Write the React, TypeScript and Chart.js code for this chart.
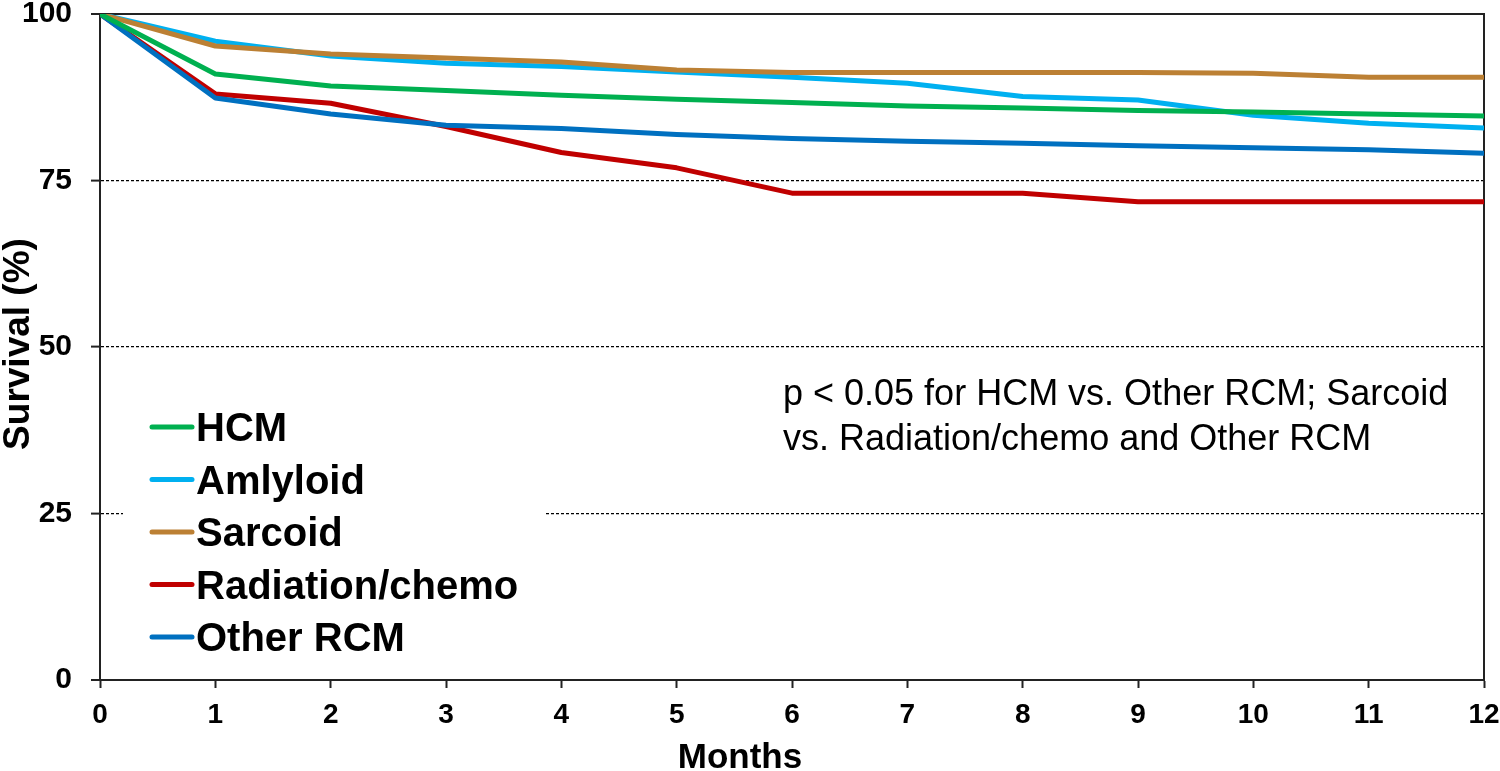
import React, { useEffect, useRef } from "react";
import { Chart, registerables } from "chart.js";

Chart.register(...registerables);

const months = [0, 1, 2, 3, 4, 5, 6, 7, 8, 9, 10, 11, 12];
const hcm = [100, 91.0, 89.2, 88.5, 87.8, 87.2, 86.7, 86.2, 85.9, 85.5, 85.3, 85.0, 84.7];
const amyloid = [100, 95.9, 93.7, 92.6, 92.1, 91.3, 90.5, 89.6, 87.6, 87.1, 84.8, 83.6, 82.9];
const sarcoid = [100, 95.2, 94.0, 93.4, 92.8, 91.6, 91.2, 91.2, 91.2, 91.2, 91.1, 90.5, 90.5];
const radiation = [100, 88.0, 86.6, 83.1, 79.2, 76.9, 73.1, 73.1, 73.1, 71.8, 71.8, 71.8, 71.8];
const otherRcm = [100, 87.4, 85.0, 83.3, 82.8, 81.9, 81.3, 80.9, 80.6, 80.2, 79.9, 79.6, 79.1];

const seriesNames = ["HCM", "Amlyloid", "Sarcoid", "Radiation/chemo", "Other RCM"];
const seriesColors = ["#00B050", "#00B0F0", "#BC8034", "#C00000", "#0070C0"];
const seriesData = [hcm, amyloid, sarcoid, radiation, otherRcm];
const seriesOrder = [1, 3, 2, 5, 4];
const yTicks = [0, 25, 50, 75, 100];

const noteLines = [
  "p < 0.05 for HCM vs. Other RCM; Sarcoid",
  "vs. Radiation/chemo and Other RCM",
];
const xTitle = "Months";
const yTitle = "Survival (%)";

const FONT = "'Liberation Sans', Arial, sans-serif";

const decorPlugin = {
  id: "decor",
  beforeDatasetsDraw(chart: any) {
    const { ctx, chartArea } = chart;
    ctx.save();
    ctx.strokeStyle = "#222";
    ctx.lineWidth = 2;
    ctx.beginPath();
    ctx.moveTo(chartArea.left, chartArea.top);
    ctx.lineTo(chartArea.right, chartArea.top);
    ctx.lineTo(chartArea.right, chartArea.bottom);
    ctx.stroke();
    ctx.restore();
  },
  afterDatasetsDraw(chart: any) {
    const { ctx } = chart;
    ctx.save();
    // legend box
    ctx.fillStyle = "#fff";
    ctx.fillRect(123, 398, 421, 262);
    const y0 = 427;
    const gap = 52.5;
    seriesNames.forEach((name, i) => {
      const y = y0 + gap * i;
      ctx.strokeStyle = seriesColors[i];
      ctx.lineWidth = 5;
      ctx.lineCap = "round";
      ctx.beginPath();
      ctx.moveTo(152, y);
      ctx.lineTo(192, y);
      ctx.stroke();
      ctx.fillStyle = "#000";
      ctx.font = `bold 40px ${FONT}`;
      ctx.textAlign = "left";
      ctx.textBaseline = "alphabetic";
      ctx.fillText(name, 196, y + 14);
    });
    // annotation
    ctx.fillStyle = "#000";
    ctx.font = `36px ${FONT}`;
    ctx.textAlign = "left";
    ctx.textBaseline = "alphabetic";
    ctx.fillText(noteLines[0], 783, 405);
    ctx.fillText(noteLines[1], 783, 450);
    // axis titles
    ctx.font = `bold 35px ${FONT}`;
    ctx.textAlign = "center";
    ctx.fillText(xTitle, 740, 768);
    ctx.save();
    ctx.translate(29, 344);
    ctx.rotate(-Math.PI / 2);
    ctx.font = `bold 37px ${FONT}`;
    ctx.fillText(yTitle, 0, 0);
    ctx.restore();
    ctx.restore();
  },
};

export default function App() {
  const canvasRef = useRef<HTMLCanvasElement | null>(null);

  useEffect(() => {
    document.body.style.margin = "0";
    const canvas = canvasRef.current;
    if (!canvas) return;
    const chart = new Chart(canvas, {
      type: "line",
      data: {
        datasets: seriesNames.map((name, i) => ({
          label: name,
          data: months.map((m, j) => ({ x: m, y: seriesData[i][j] })),
          borderColor: seriesColors[i],
          backgroundColor: seriesColors[i],
          borderWidth: 5,
          pointRadius: 0,
          tension: 0,
          fill: false,
          order: seriesOrder[i],
          borderJoinStyle: "round",
        })),
      },
      options: {
        responsive: false,
        animation: false,
        devicePixelRatio: 1,
        layout: { padding: { left: 0, top: 14, right: 16, bottom: 0 } },
        plugins: {
          legend: { display: false },
          tooltip: { enabled: false },
        },
        scales: {
          x: {
            type: "linear",
            min: 0,
            max: 12,
            afterFit: (s: any) => {
              s.height = 91;
              s.paddingLeft = 0;
              s.paddingRight = 0;
            },
            ticks: {
              stepSize: 1,
              color: "#000",
              padding: 10,
              maxRotation: 0,
              font: { family: FONT, size: 28, weight: "bold" },
            },
            grid: {
              display: true,
              drawOnChartArea: false,
              drawTicks: true,
              tickLength: 8,
              tickColor: "#222",
              tickWidth: 2,
            },
            border: { display: true, color: "#222", width: 2 },
          },
          y: {
            type: "linear",
            min: 0,
            max: 100,
            afterFit: (s: any) => {
              s.width = 100;
              s.paddingTop = 0;
              s.paddingBottom = 0;
            },
            afterBuildTicks: (s: any) => {
              s.ticks = yTicks.map((v) => ({ value: v }));
            },
            ticks: {
              color: "#000",
              padding: 19,
              font: { family: FONT, size: 30, weight: "bold" },
            },
            grid: {
              display: true,
              drawOnChartArea: true,
              drawTicks: true,
              tickLength: 9,
              tickColor: "#222",
              tickWidth: 2,
              tickBorderDash: [],
              color: (c: any) =>
                c.tick && (c.tick.value === 0 || c.tick.value === 100) ? "rgba(0,0,0,0)" : "#000",
              lineWidth: (c: any) =>
                c.tick && (c.tick.value === 0 || c.tick.value === 100) ? 0 : 1.2,
            },
            border: { display: true, color: "#222", width: 2, dash: [3, 2] },
          },
        },
      },
      plugins: [decorPlugin],
    } as any);
    return () => chart.destroy();
  }, []);

  return <canvas ref={canvasRef} width={1500} height={771} style={{ display: "block" }} />;
}
